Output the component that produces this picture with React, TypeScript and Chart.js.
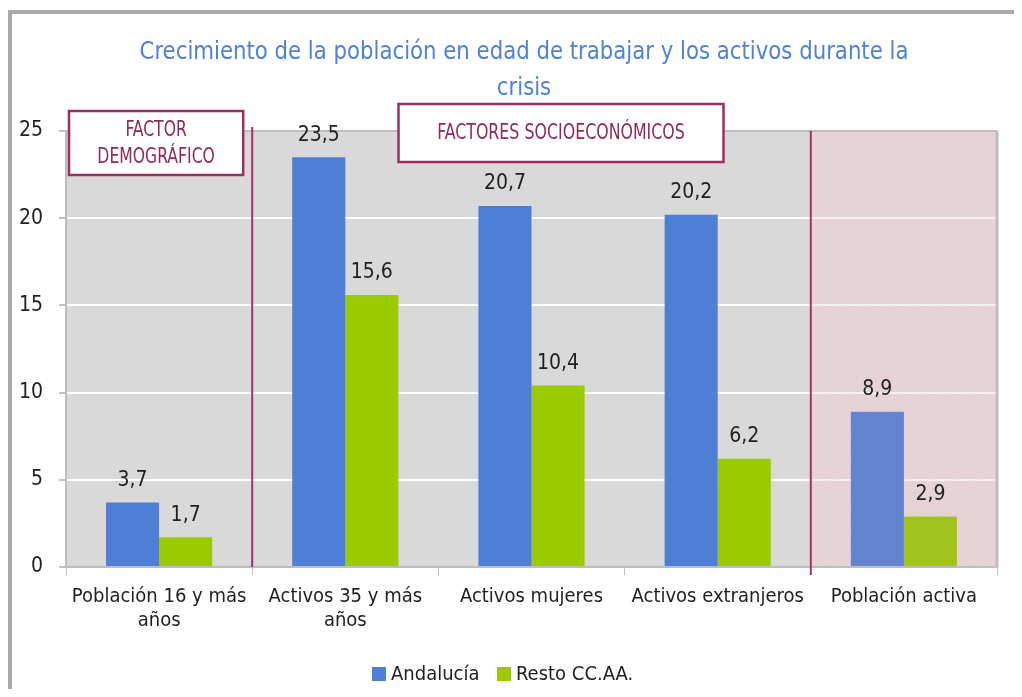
import React, { useEffect, useRef } from "react";
import { Chart, registerables } from "chart.js";
Chart.register(...registerables);

const FONT = '"Liberation Sans Narrow", "DejaVu Sans Condensed", "Roboto Condensed", "Liberation Sans", sans-serif';

const categories: (string | string[])[] = [
  ["Población 16 y más", "años"],
  ["Activos 35 y más", "años"],
  "Activos mujeres",
  "Activos extranjeros",
  "Población activa",
];
const seriesNames = ["Andalucía", "Resto CC.AA."];
const andalucia = [3.7, 23.5, 20.7, 20.2, 8.9];
const resto = [1.7, 15.6, 10.4, 6.2, 2.9];
const seriesColors = ["#4f7ed6", "#9acb00"];
const titleLines = ["Crecimiento de la población en edad de trabajar y los activos durante la", "crisis"];
const yMin = 0;
const yMax = 25;
const yStep = 5;

const fmt = (v: number) => v.toFixed(1).replace(".", ",");

const narrowText = (ctx: any, text: string, cx: number, cy: number, sx: number) => {
  ctx.save();
  ctx.translate(cx, cy);
  ctx.scale(sx, 1);
  ctx.fillText(text, 0, 0);
  ctx.restore();
};

const decor = {
  id: "decor",
  beforeDraw(chart: any) {
    const { ctx, chartArea, scales } = chart;
    const { left, right, top, bottom } = chartArea;
    const x = scales.x;
    const half = (x.getPixelForValue(1) - x.getPixelForValue(0)) / 2;
    const b4 = x.getPixelForValue(4) - half;
    ctx.save();
    ctx.fillStyle = "#d9d9d9";
    ctx.fillRect(left, top, b4 - left, bottom - top);
    ctx.fillStyle = "#ebdcde";
    ctx.fillRect(b4, top, right - b4, bottom - top);
    ctx.restore();
  },
  afterDatasetsDraw(chart: any) {
    const { ctx, chartArea, scales } = chart;
    const { left, right, top, bottom } = chartArea;
    const x = scales.x;
    const half = (x.getPixelForValue(1) - x.getPixelForValue(0)) / 2;
    const b1 = x.getPixelForValue(1) - half;
    const b4 = x.getPixelForValue(4) - half;
    ctx.save();
    // pink hatched overlay
    ctx.beginPath();
    ctx.rect(b4, top, right - b4, bottom - top);
    ctx.clip();
    ctx.fillStyle = "rgba(225,185,192,0.12)";
    ctx.fillRect(b4, top, right - b4, bottom - top);
    ctx.strokeStyle = "rgba(180,130,140,0.16)";
    ctx.lineWidth = 1;
    for (let k = -600; k < 400; k += 3) {
      ctx.beginPath();
      ctx.moveTo(b4 + k, bottom);
      ctx.lineTo(b4 + k + 500, bottom - 500);
      ctx.stroke();
    }
    ctx.restore();

    ctx.save();
    // plot borders
    ctx.strokeStyle = "#bdbdbd";
    ctx.lineWidth = 2;
    ctx.beginPath();
    ctx.moveTo(left, top);
    ctx.lineTo(right, top);
    ctx.stroke();
    ctx.lineWidth = 3;
    ctx.beginPath();
    ctx.moveTo(right, top);
    ctx.lineTo(right, bottom);
    ctx.stroke();
    ctx.lineWidth = 2;
    ctx.beginPath();
    ctx.moveTo(left, top);
    ctx.lineTo(left, bottom);
    ctx.moveTo(left, bottom);
    ctx.lineTo(right, bottom);
    ctx.stroke();

    // magenta separators
    ctx.strokeStyle = "#a3326c";
    ctx.lineWidth = 2;
    ctx.beginPath();
    ctx.moveTo(b1, top - 4);
    ctx.lineTo(b1, bottom);
    ctx.moveTo(b4, top);
    ctx.lineTo(b4, bottom + 8);
    ctx.stroke();

    // data labels
    ctx.fillStyle = "#1f1f1f";
    ctx.font = `21px ${FONT}`;
    ctx.textAlign = "center";
    ctx.textBaseline = "middle";
    chart.data.datasets.forEach((ds: any, di: number) => {
      const meta = chart.getDatasetMeta(di);
      meta.data.forEach((bar: any, i: number) => {
        ctx.fillText(fmt(ds.data[i]), bar.x, bar.y - 22);
      });
    });

    // annotation boxes
    const box = (bx: number, by: number, bw: number, bh: number, lines: string[], ly: number[], sx: number) => {
      ctx.fillStyle = "#ffffff";
      ctx.fillRect(bx, by, bw, bh);
      ctx.strokeStyle = "#9c2e63";
      ctx.lineWidth = 2.5;
      ctx.strokeRect(bx, by, bw, bh);
      ctx.fillStyle = "#8e2a5b";
      ctx.font = `22px ${FONT}`;
      lines.forEach((t, i) => narrowText(ctx, t, bx + bw / 2, ly[i], sx));
    };
    box(left + 3, top - 20, b1 - 9 - (left + 3), 64, ["FACTOR", "DEMOGRÁFICO"], [top - 1, top + 26], 0.79);
    const b2 = x.getPixelForValue(2);
    box(b2 - 133, top - 27, 325, 58, ["FACTORES SOCIOECONÓMICOS"], [top + 2], 0.8);
    ctx.restore();
  },
  afterDraw(chart: any) {
    const { ctx } = chart;
    ctx.save();
    ctx.fillStyle = "#4f81d9";
    ctx.font = `25px ${FONT}`;
    ctx.textAlign = "center";
    ctx.textBaseline = "middle";
    narrowText(ctx, titleLines[0], 516, 44, 0.945);
    narrowText(ctx, titleLines[1], 516, 80, 0.945);

    // legend
    ctx.font = `20px ${FONT}`;
    ctx.textAlign = "left";
    ctx.fillStyle = seriesColors[0];
    ctx.fillRect(364, 659, 14, 14);
    ctx.fillStyle = "#1f1f1f";
    ctx.fillText(seriesNames[0], 383, 667);
    ctx.fillStyle = seriesColors[1];
    ctx.fillRect(489, 659, 14, 14);
    ctx.fillStyle = "#1f1f1f";
    ctx.fillText(seriesNames[1], 508, 667);
    ctx.restore();
  },
};

export default function App() {
  const ref = useRef<HTMLCanvasElement | null>(null);
  useEffect(() => {
    if (!ref.current) return;
    const chart = new Chart(ref.current, {
      type: "bar",
      data: {
        labels: categories,
        datasets: [
          { label: seriesNames[0], data: andalucia, backgroundColor: seriesColors[0], categoryPercentage: 0.57, barPercentage: 1 },
          { label: seriesNames[1], data: resto, backgroundColor: seriesColors[1], categoryPercentage: 0.57, barPercentage: 1 },
        ],
      },
      options: {
        responsive: false,
        animation: false,
        devicePixelRatio: 1,
        layout: { padding: { top: 123, right: 25, left: 0, bottom: 0 } },
        plugins: { legend: { display: false }, title: { display: false }, tooltip: { enabled: false } },
        scales: {
          x: {
            grid: { offset: true, drawOnChartArea: false, drawTicks: true, tickLength: 8, tickColor: "#bfbfbf" },
            border: { color: "#bfbfbf", width: 2 },
            ticks: { color: "#1f1f1f", font: { family: FONT, size: 20 }, padding: 10, maxRotation: 0, autoSkip: false },
            afterFit: (s: any) => { s.height = 122; },
          },
          y: {
            min: yMin,
            max: yMax,
            ticks: { stepSize: yStep, color: "#1f1f1f", font: { family: FONT, size: 21 }, padding: 16 },
            grid: { color: "#ffffff", lineWidth: 2, tickLength: 7, tickColor: "#bfbfbf" },
            border: { color: "#bfbfbf", width: 2 },
            afterFit: (s: any) => { s.width = 58; },
          },
        },
      },
      plugins: [decor],
    });
    return () => chart.destroy();
  }, []);
  return (
    <div style={{ position: "relative", width: 1014, height: 681, overflow: "hidden" }}>
      <div
        style={{
          position: "absolute",
          left: 0,
          top: 2,
          width: 1200,
          height: 900,
          borderTop: "4px solid #a9a9a9",
          borderLeft: "4px solid #a9a9a9",
        }}
      />
      <canvas ref={ref} width={1014} height={681} style={{ position: "absolute", left: 0, top: 0, width: 1014, height: 681 }} />
    </div>
  );
}
